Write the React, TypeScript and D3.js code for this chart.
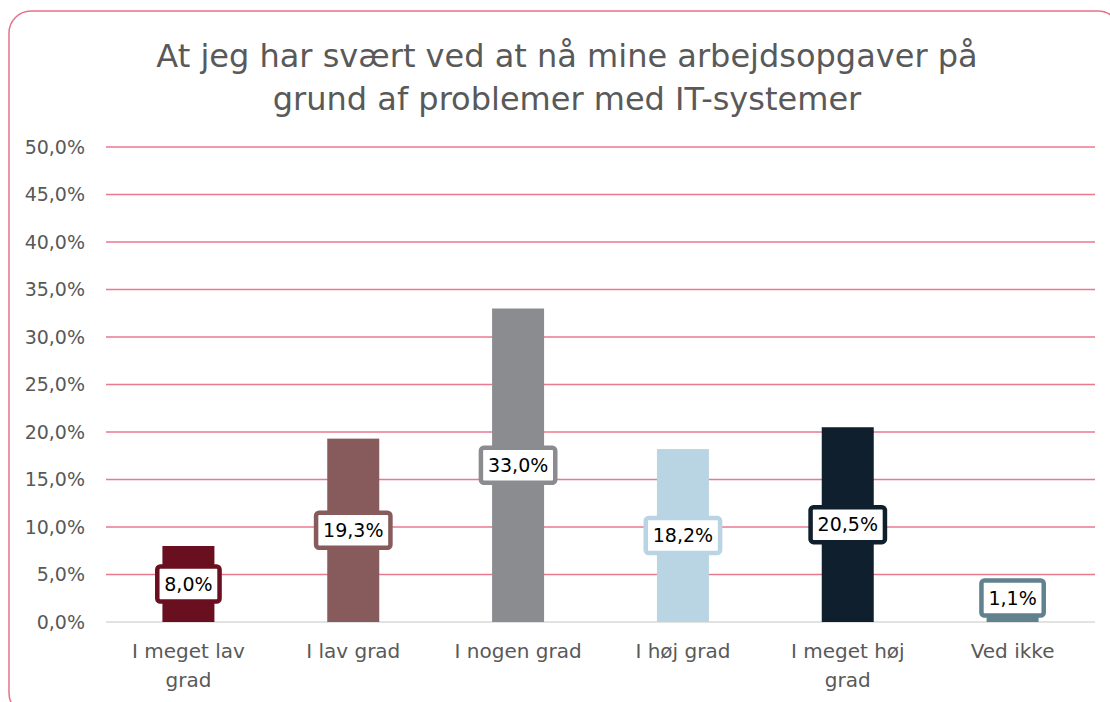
import React, { useEffect, useRef } from 'react';
import * as d3 from 'd3';

const categories = ['I meget lav grad', 'I lav grad', 'I nogen grad', 'I høj grad', 'I meget høj grad', 'Ved ikke'];
const values = [8.0, 19.3, 33.0, 18.2, 20.5, 1.1];
const colors = ['#6a0f1f', '#875b5b', '#8a8c8f', '#b9d4e2', '#0f1f2d', '#61818f'];
const yTicks = [0, 5, 10, 15, 20, 25, 30, 35, 40, 45, 50];
const titleLines = ['At jeg har svært ved at nå mine arbejdsopgaver på', 'grund af problemer med IT-systemer'];

const FONT = '"DejaVu Sans", sans-serif';
const fmt = (v: number) => v.toFixed(1).replace('.', ',') + '%';

const App = () => {
  const ref = useRef<SVGSVGElement>(null);

  useEffect(() => {
    const svg = d3.select(ref.current);
    svg.selectAll('*').remove();

    const W = 1110;
    const H = 702;
    const margin = { left: 106, right: 15, top: 147, bottom: 80 };

    svg.append('rect')
      .attr('x', 9).attr('y', 11)
      .attr('width', 1111).attr('height', 704)
      .attr('rx', 22)
      .attr('fill', '#fff')
      .attr('stroke', '#e8728a')
      .attr('stroke-width', 1.5);

    svg.append('text')
      .attr('x', 567)
      .attr('text-anchor', 'middle')
      .attr('fill', '#595959')
      .style('font-family', FONT)
      .style('font-size', '32px')
      .selectAll('tspan')
      .data(titleLines)
      .join('tspan')
      .attr('x', 567)
      .attr('y', (d, i) => 67 + i * 43)
      .text((d) => d);

    const x = d3.scaleBand()
      .domain(categories)
      .range([margin.left, W - margin.right]);

    const y = d3.scaleLinear()
      .domain([0, 50])
      .range([H - margin.bottom, margin.top]);

    // gridlines
    svg.append('g')
      .selectAll('line')
      .data(yTicks.filter((t) => t > 0))
      .join('line')
      .attr('x1', margin.left)
      .attr('x2', W - margin.right)
      .attr('y1', (d) => y(d))
      .attr('y2', (d) => y(d))
      .attr('stroke', '#e8798e')
      .attr('stroke-width', 1.5);

    svg.append('line')
      .attr('x1', margin.left)
      .attr('x2', W - margin.right)
      .attr('y1', y(0))
      .attr('y2', y(0))
      .attr('stroke', '#d9d9d9')
      .attr('stroke-width', 1.5);

    // y labels
    svg.append('g')
      .selectAll('text')
      .data(yTicks)
      .join('text')
      .attr('x', 85)
      .attr('y', (d) => y(d))
      .attr('dy', '0.35em')
      .attr('text-anchor', 'end')
      .attr('fill', '#595959')
      .style('font-family', FONT)
      .style('font-size', '19px')
      .text((d) => fmt(d));

    const barW = 52;
    svg.append('g')
      .selectAll('rect')
      .data(values)
      .join('rect')
      .attr('x', (d, i) => x(categories[i])! + x.bandwidth() / 2 - barW / 2)
      .attr('y', (d) => y(d))
      .attr('width', barW)
      .attr('height', (d) => y(0) - y(d))
      .attr('fill', (d, i) => colors[i]);

    // data labels
    const lg = svg.append('g');
    values.forEach((v, i) => {
      const cx = x(categories[i])! + x.bandwidth() / 2;
      const cy = Math.min((y(v) + y(0)) / 2, y(0) - 24);
      const g = lg.append('g').attr('transform', `translate(${cx},${cy})`);
      const t = g.append('text')
        .attr('text-anchor', 'middle')
        .attr('dy', '0.36em')
        .attr('fill', '#000')
        .style('font-family', FONT)
        .style('font-size', '19px')
        .text(fmt(v));
      const tw = (t.node() as SVGTextElement).getComputedTextLength();
      const bw = tw + 14;
      const bh = 35;
      g.insert('rect', 'text')
        .attr('x', -bw / 2)
        .attr('y', -bh / 2)
        .attr('width', bw)
        .attr('height', bh)
        .attr('rx', 3)
        .attr('fill', '#fff')
        .attr('stroke', colors[i])
        .attr('stroke-width', 4.5);
    });

    // category labels
    svg.append('g')
      .selectAll('text')
      .data(categories)
      .join('text')
      .attr('text-anchor', 'middle')
      .attr('fill', '#595959')
      .style('font-family', FONT)
      .style('font-size', '20px')
      .each(function (d) {
        const el = d3.select(this);
        const cx = x(d)! + x.bandwidth() / 2;
        const words = d.split(' ');
        let line: string[] = [];
        let n = 0;
        let ts = el.append('tspan').attr('x', cx).attr('y', 658);
        words.forEach((w) => {
          line.push(w);
          ts.text(line.join(' '));
          if ((ts.node() as SVGTSpanElement).getComputedTextLength() > 145 && line.length > 1) {
            line.pop();
            ts.text(line.join(' '));
            line = [w];
            n += 1;
            ts = el.append('tspan').attr('x', cx).attr('y', 658 + n * 29).text(w);
          }
        });
      });
  }, []);

  return (
    <svg ref={ref} width={1110} height={702} style={{ position: 'absolute', left: 0, top: 0 }} />
  );
};

export default App;
